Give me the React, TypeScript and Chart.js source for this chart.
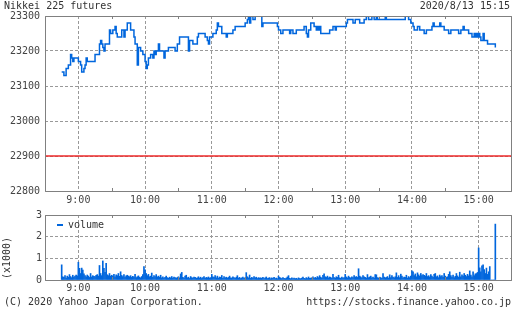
import { useEffect, useRef } from "react";
import { Chart, registerables } from "chart.js";
Chart.register(...registerables);

const TITLE = "Nikkei 225 futures";
const DATE_LABEL = "2020/8/13 15:15";
const COPYRIGHT = "(C) 2020 Yahoo Japan Corporation.";
const SOURCE_URL = "https://stocks.finance.yahoo.co.jp";
const VOLUME_LABEL = "volume";
const VOLUME_UNIT = "(x1000)";

const X_RANGE = ["8:30", "15:30"];
const X_TICKS = ["9:00", "10:00", "11:00", "12:00", "13:00", "14:00", "15:00"];
const X_MINOR = ["9:30", "10:30", "11:30", "12:30", "13:30", "14:30"];
const PRICE_TICKS = [22800, 22900, 23000, 23100, 23200, 23300];
const VOL_TICKS = [0, 1000, 2000, 3000];
const PREV_CLOSE = 22900;

const PRICE_TIMES = [
  "8:45", "8:47", "8:49", "8:51", "8:53", "8:54", "8:55", "8:56", "9:00", "9:02",
  "9:03", "9:05", "9:06", "9:07", "9:08", "9:15", "9:19", "9:20", "9:21", "9:22",
  "9:23", "9:24", "9:28", "9:29", "9:31", "9:33", "9:34", "9:35", "9:39", "9:41",
  "9:42", "9:44", "9:47", "9:50", "9:51", "9:53", "9:54", "9:56", "9:58", "10:00",
  "10:01", "10:02", "10:03", "10:05", "10:07", "10:08", "10:09", "10:10", "10:12", "10:13",
  "10:17", "10:18", "10:21", "10:27", "10:29", "10:31", "10:39", "10:40", "10:43", "10:47",
  "10:48", "10:54", "10:56", "10:57", "10:58", "11:01", "11:04", "11:05", "11:06", "11:09",
  "11:13", "11:14", "11:19", "11:21", "11:30", "11:32", "11:33", "11:34", "11:35", "11:37",
  "11:39", "11:45", "11:46", "11:59", "12:00", "12:02", "12:04", "12:10", "12:11", "12:13",
  "12:16", "12:23", "12:25", "12:26", "12:27", "12:29", "12:32", "12:34", "12:35", "12:36",
  "12:37", "12:38", "12:46", "12:49", "12:51", "12:52", "13:01", "13:02", "13:07", "13:09",
  "13:13", "13:17", "13:19", "13:21", "13:24", "13:26", "13:28", "13:29", "13:36", "13:37",
  "13:54", "13:57", "13:59", "14:01", "14:02", "14:05", "14:07", "14:11", "14:13", "14:18",
  "14:19", "14:20", "14:25", "14:26", "14:29", "14:33", "14:35", "14:42", "14:44", "14:46",
  "14:47", "14:51", "14:54", "14:56", "14:57", "14:58", "14:59", "15:00", "15:01", "15:02",
  "15:04", "15:05", "15:08", "15:15",
];
const PRICE_VALUES = [
  23140, 23130, 23150, 23160, 23190, 23180, 23170, 23180, 23170, 23160,
  23140, 23150, 23160, 23180, 23170, 23190, 23220, 23230, 23220, 23210,
  23200, 23220, 23260, 23250, 23260, 23270, 23250, 23240, 23260, 23240,
  23260, 23280, 23260, 23240, 23220, 23160, 23210, 23200, 23190, 23170,
  23150, 23160, 23180, 23190, 23180, 23200, 23190, 23200, 23220, 23200,
  23180, 23200, 23210, 23200, 23220, 23240, 23200, 23230, 23220, 23240,
  23250, 23240, 23230, 23220, 23240, 23250, 23260, 23280, 23270, 23250,
  23240, 23250, 23260, 23270, 23280, 23290, 23300, 23280, 23300, 23290,
  23300, 23270, 23280, 23270, 23260, 23250, 23260, 23250, 23260, 23250,
  23260, 23270, 23250, 23240, 23260, 23280, 23270, 23260, 23270, 23260,
  23270, 23250, 23260, 23270, 23260, 23270, 23280, 23290, 23280, 23290,
  23280, 23290, 23300, 23290, 23300, 23290, 23300, 23290, 23300, 23290,
  23300, 23290, 23280, 23270, 23260, 23270, 23260, 23250, 23260, 23270,
  23280, 23270, 23280, 23270, 23260, 23250, 23260, 23250, 23260, 23270,
  23260, 23250, 23240, 23250, 23240, 23250, 23240, 23250, 23240, 23230,
  23250, 23230, 23220, 23210,
];

// per-minute volume starting at 8:45
const VOL_START = "8:45";
const VOLUMES = [
  700, 150, 120, 200, 90, 180, 130, 250, 160, 110, 220, 140, 180, 230, 190,
  820, 540, 300, 550, 460, 280, 200, 150, 230, 180, 120, 300, 140, 200, 170,
  160, 220, 250, 180, 670, 300, 200, 880, 540, 350, 770, 240, 200, 300, 180,
  220, 180, 260, 150, 240, 200, 300, 170, 380, 210, 160, 250, 140, 190, 220,
  180, 150, 200, 120, 170, 140, 260, 110, 150, 190, 130, 100, 160, 250, 620,
  470, 300, 200, 260, 150, 180, 320, 120, 200, 160, 250, 140, 180, 130, 220,
  100, 150, 90, 120, 180, 110, 80, 130, 100, 160, 90, 140, 110, 80, 120,
  150, 100, 280, 350, 120, 90, 180, 220, 100, 130, 70, 160, 110, 90, 140,
  120, 80, 100, 150, 90, 130, 70, 110, 160, 80, 120, 100, 140, 90, 110,
  260, 150, 120, 200, 100, 180, 90, 140, 120, 210, 80, 160, 100, 130, 90,
  120, 180, 100, 90, 150, 110, 80, 130, 200, 90, 120, 70, 100, 140, 80,
  110, 340, 150, 100, 230, 80, 120, 90, 160, 100, 130, 70, 110, 90, 100,
  80, 120, 60, 100, 140, 70, 90, 110, 60, 100, 80, 120, 70, 90, 60,
  180, 120, 90, 70, 110, 80, 60, 90, 140, 200, 80, 60, 100, 70, 90,
  60, 80, 50, 100, 70, 60, 90, 130, 80, 60, 110, 70, 140, 80, 90,
  100, 150, 80, 120, 90, 160, 110, 200, 130, 90, 220, 280, 150, 120, 180,
  100, 140, 120, 80, 260, 110, 90, 150, 120, 220, 100, 80, 130, 90, 110,
  260, 140, 100, 180, 120, 90, 150, 110, 200, 130, 160, 120, 520, 180, 140,
  100, 200, 150, 120, 90, 250, 110, 140, 180, 100, 130, 90, 250, 240, 110,
  90, 130, 110, 80, 300, 140, 100, 120, 160, 90, 240, 110, 200, 130, 100,
  150, 330, 120, 200, 110, 270, 180, 100, 140, 120, 220, 90, 160, 110, 180,
  420, 380, 200, 280, 150, 330, 240, 180, 300, 200, 250, 220, 180, 300, 160,
  200, 140, 250, 180, 120, 260, 300, 150, 190, 110, 230, 160, 200, 140, 300,
  180, 120, 150, 260, 380, 200, 140, 230, 110, 170, 300, 190, 130, 360, 150,
  240, 180, 300, 220, 160, 260, 190, 420, 230, 150, 380, 200, 280, 300, 350,
  1480, 560, 380, 650, 700, 480, 300, 550, 260, 380, 620, 0, 0, 0, 0,
  2580,
];

const BLUE = "#0066dd";
const RED = "#ee2a2a";
const GRID = "#999999";
const FRAME = "#808080";
const TEXT = "#444444";
const FONT_FAMILY = "'DejaVu Sans Mono', monospace";

function toMin(s: string) {
  const [h, m] = s.split(":").map(Number);
  return h * 60 + m;
}
function fmt(v: number) {
  const h = Math.floor(v / 60);
  const m = Math.round(v - h * 60);
  return `${h}:${String(m).padStart(2, "0")}`;
}

const X_MIN = toMin(X_RANGE[0]);
const X_MAX = toMin(X_RANGE[1]);

const framePlugin = {
  id: "frame",
  afterDatasetsDraw(chart: any) {
    const { ctx, chartArea: a, scales } = chart;
    ctx.save();
    ctx.strokeStyle = FRAME;
    ctx.lineWidth = 1;
    ctx.beginPath();
    ctx.rect(a.left + 0.5, a.top + 0.5, a.right - a.left - 1, a.bottom - a.top);
    for (const t of X_MINOR) {
      const px = Math.round(scales.x.getPixelForValue(toMin(t))) + 0.5;
      ctx.moveTo(px, a.top);
      ctx.lineTo(px, a.top + 3);
      ctx.moveTo(px, a.bottom);
      ctx.lineTo(px, a.bottom - 3);
    }
    ctx.stroke();
    ctx.restore();
  },
};

const tickFont = { family: FONT_FAMILY, size: 10 };

function xScale(height: number, padding: number) {
  return {
    type: "linear" as const,
    min: X_MIN,
    max: X_MAX,
    offset: false,
    afterBuildTicks: (s: any) => {
      s.ticks = X_TICKS.map((t) => ({ value: toMin(t) }));
    },
    afterFit: (s: any) => {
      s.height = height;
    },
    grid: { color: GRID, drawTicks: false, lineWidth: 1, offset: false },
    border: { display: false, dash: [3, 2] },
    ticks: {
      callback: (v: any) => fmt(Number(v)),
      font: tickFont,
      color: TEXT,
      padding,
      autoSkip: false,
      maxRotation: 0,
    },
  };
}

export default function App() {
  const priceRef = useRef<HTMLCanvasElement>(null);
  const volRef = useRef<HTMLCanvasElement>(null);

  useEffect(() => {
    const priceChart = new Chart(priceRef.current!, {
      type: "line",
      data: {
        datasets: [
          {
            data: PRICE_TIMES.map((t, i) => ({ x: toMin(t), y: PRICE_VALUES[i] })),
            stepped: true,
            borderColor: BLUE,
            borderWidth: 1.5,
            pointRadius: 0,
            fill: false,
          },
          {
            data: [
              { x: X_MIN, y: PREV_CLOSE },
              { x: X_MAX, y: PREV_CLOSE },
            ],
            borderColor: RED,
            borderWidth: 1.5,
            pointRadius: 0,
            fill: false,
          },
        ],
      },
      options: {
        animation: false,
        responsive: false,
        devicePixelRatio: 1,
        layout: { padding: { top: 16, right: 0, left: 0, bottom: 0 } },
        plugins: { legend: { display: false }, tooltip: { enabled: false } },
        scales: {
          x: xScale(14, 3) as any,
          y: {
            min: PRICE_TICKS[0],
            max: PRICE_TICKS[PRICE_TICKS.length - 1],
            afterBuildTicks: (s: any) => {
              s.ticks = PRICE_TICKS.map((v) => ({ value: v }));
            },
            afterFit: (s: any) => {
              s.width = 45;
            },
            grid: { color: GRID, drawTicks: false },
            border: { display: false, dash: [3, 2] },
            ticks: {
              font: tickFont,
              color: TEXT,
              padding: 5,
              callback: (v: any) => String(v),
            },
          },
        },
      },
      plugins: [framePlugin],
    });

    const start = toMin(VOL_START);
    const volChart = new Chart(volRef.current!, {
      type: "bar",
      data: {
        datasets: [
          {
            label: VOLUME_LABEL,
            data: VOLUMES.map((v, i) => ({ x: start + i, y: v })),
            backgroundColor: BLUE,
            borderWidth: 0,
            barThickness: 1,
          },
        ],
      },
      options: {
        animation: false,
        responsive: false,
        devicePixelRatio: 1,
        layout: { padding: { top: 15, right: 0, left: 0, bottom: 0 } },
        plugins: { legend: { display: false }, tooltip: { enabled: false } },
        scales: {
          x: xScale(15, 2) as any,
          y: {
            min: VOL_TICKS[0],
            max: VOL_TICKS[VOL_TICKS.length - 1],
            afterBuildTicks: (s: any) => {
              s.ticks = VOL_TICKS.map((v) => ({ value: v }));
            },
            afterFit: (s: any) => {
              s.width = 45;
            },
            grid: { color: GRID, drawTicks: false },
            border: { display: false, dash: [3, 2] },
            ticks: {
              font: tickFont,
              color: TEXT,
              padding: 3,
              callback: (v: any) => String(Number(v) / 1000),
            },
          },
        },
      },
      plugins: [framePlugin],
    });

    return () => {
      priceChart.destroy();
      volChart.destroy();
    };
  }, []);

  const text: React.CSSProperties = {
    position: "absolute",
    fontFamily: FONT_FAMILY,
    fontSize: 10,
    lineHeight: "12px",
    color: "#333",
    whiteSpace: "nowrap",
  };

  return (
    <div
      style={{
        position: "absolute",
        left: 0,
        top: 0,
        width: 512,
        height: 310,
        background: "#fff",
        overflow: "hidden",
      }}
    >
      <canvas
        ref={priceRef}
        width={512}
        height={205}
        style={{ position: "absolute", left: 0, top: 0, width: 512, height: 205 }}
      />
      <canvas
        ref={volRef}
        width={512}
        height={95}
        style={{ position: "absolute", left: 0, top: 200, width: 512, height: 95 }}
      />
      <div style={{ ...text, left: 4, top: 0 }}>{TITLE}</div>
      <div style={{ ...text, right: 2, top: 0 }}>{DATE_LABEL}</div>
      <div style={{ ...text, left: 4, top: 296 }}>{COPYRIGHT}</div>
      <div style={{ ...text, right: 1, top: 296 }}>{SOURCE_URL}</div>
      <div
        style={{
          position: "absolute",
          left: 57,
          top: 224,
          width: 6,
          height: 2,
          background: BLUE,
        }}
      />
      <div style={{ ...text, left: 68, top: 219 }}>{VOLUME_LABEL}</div>
      <div
        style={{
          ...text,
          left: -14,
          top: 252,
          width: 42,
          height: 12,
          textAlign: "center",
          transform: "rotate(-90deg)",
          transformOrigin: "50% 50%",
        }}
      >
        {VOLUME_UNIT}
      </div>
    </div>
  );
}
